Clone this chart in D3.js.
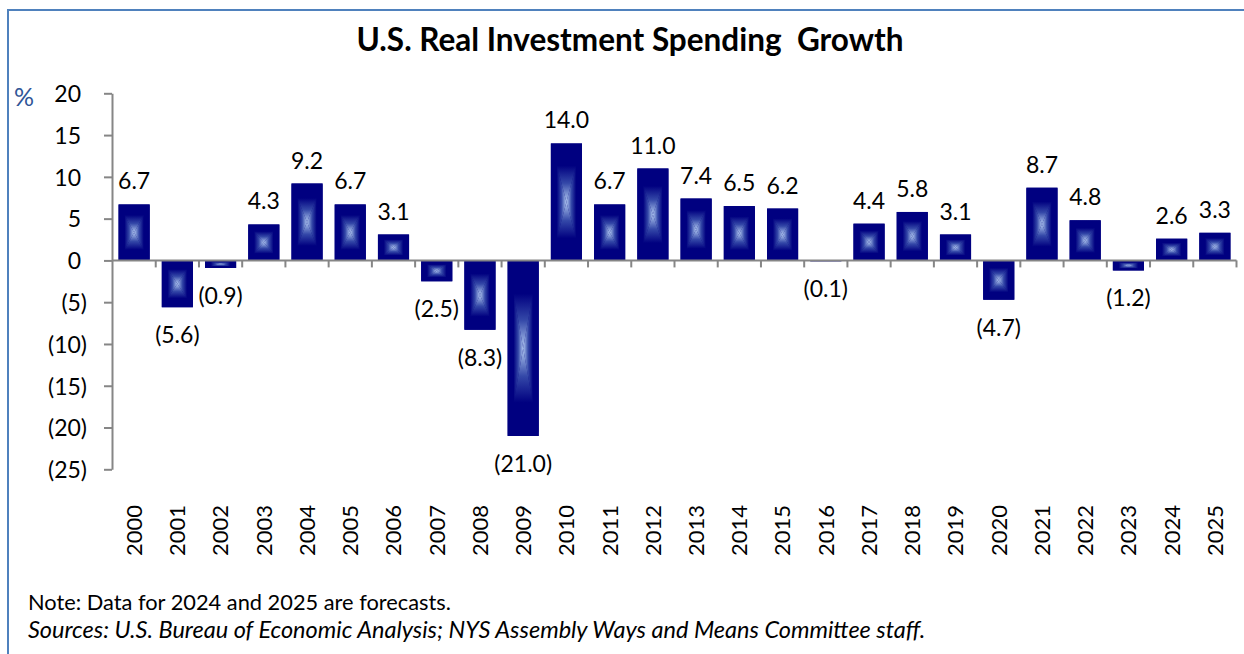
<!DOCTYPE html>
<html><head><meta charset="utf-8">
<script src="https://cdn.jsdelivr.net/npm/d3@7"></script>
<style>
html,body{margin:0;padding:0;background:#fff;overflow:hidden;}
svg{display:block;font-family:Lato,"Open Sans",sans-serif;}
</style></head>
<body>
<svg id="chart" width="1244" height="654"></svg>
<script>
const years = ["2000","2001","2002","2003","2004","2005","2006","2007","2008","2009","2010","2011","2012","2013","2014","2015","2016","2017","2018","2019","2020","2021","2022","2023","2024","2025"];
const growth = [6.7,-5.6,-0.9,4.3,9.2,6.7,3.1,-2.5,-8.3,-21.0,14.0,6.7,11.0,7.4,6.5,6.2,-0.1,4.4,5.8,3.1,-4.7,8.7,4.8,-1.2,2.6,3.3];
const yTicks = [20,15,10,5,0,-5,-10,-15,-20,-25];
const titleText = "U.S. Real Investment Spending\u00a0 Growth";
const noteText = "Note: Data for 2024 and 2025 are forecasts.";
const sourceText = "Sources: U.S. Bureau of Economic Analysis; NYS Assembly Ways and Means Committee staff.";

const svg = d3.select("#chart");
const fmt = v => v < 0 ? "(" + d3.format(".1f")(-v) + ")" : d3.format(".1f")(v);
const fmtTick = v => v < 0 ? "(" + (-v) + ")" : String(v);

// frame (top and left edges visible)
svg.append("path").attr("d","M8,700V10H1260")
  .attr("fill","none").attr("stroke","#4f81bd").attr("stroke-width",2);

const x = d3.scaleBand().domain(years).range([112.5,1236.5]).paddingInner(0.28).paddingOuter(0.14);
const y = d3.scaleLinear().domain([-25,20]).range([469.3,93.3]);

// gradients
const defs = svg.append("defs");
const stops = [[0,"#000080"],[0.38,"#000080"],[0.68,"#3448a8"],[1,"#b0c8f0"]];
const gdefs = {gl:[0,0,1,0],gr:[1,0,0,0],gt:[0,0,0,1],gb:[0,1,0,0]};
Object.entries(gdefs).forEach(([id,c])=>{
  const g = defs.append("linearGradient").attr("id",id)
    .attr("x1",c[0]).attr("y1",c[1]).attr("x2",c[2]).attr("y2",c[3]);
  stops.forEach(s=>g.append("stop").attr("offset",s[0]).attr("stop-color",s[1]));
});

// y axis
const axisColor = "#868686";
const yAxis = svg.append("g").attr("transform","translate(112,0)")
  .call(d3.axisLeft(y).tickValues(yTicks).tickSize(8).tickSizeOuter(0).tickFormat(fmtTick));
yAxis.select(".domain").attr("stroke",axisColor).attr("stroke-width",2);
yAxis.selectAll(".tick line").attr("stroke",axisColor).attr("stroke-width",2);
yAxis.selectAll(".tick text").attr("font-family","Lato").attr("font-size",23).attr("fill","#000")
  .attr("x",d => d < 0 ? -25 : -31).attr("dy","0.36em");

// bars
const bars = svg.append("g").selectAll("g.bar").data(years).join("g").attr("class","bar");
bars.each(function(yr,i){
  const v = growth[i];
  const x0 = x(yr), w = x.bandwidth();
  const yTop = y(Math.max(0,v)), yBot = y(Math.min(0,v));
  const h = yBot - yTop;
  const cx = x0 + w/2, cy = yTop + h/2;
  const g = d3.select(this);
  g.append("rect").attr("x",x0).attr("y",yTop).attr("width",w).attr("height",h).attr("fill","#000080");
  const tri = (pts,id) => g.append("path").attr("d","M"+pts.map(p=>p.join(",")).join("L")+"Z").attr("fill","url(#"+id+")");
  tri([[x0,yTop],[cx,cy],[x0,yBot]],"gl");
  tri([[x0+w,yTop],[cx,cy],[x0+w,yBot]],"gr");
  tri([[x0,yTop],[cx,cy],[x0+w,yTop]],"gt");
  tri([[x0,yBot],[cx,cy],[x0+w,yBot]],"gb");
});

// x axis
const xAxisG = svg.append("g");
xAxisG.append("line").attr("x1",112).attr("x2",1236.5).attr("y1",y(0)).attr("y2",y(0))
  .attr("stroke",axisColor).attr("stroke-width",2);
const step = x.step();
const bounds = years.map((yr,i)=> x.range()[0] + (i+1)*step);
xAxisG.selectAll("line.t").data(bounds).join("line").attr("class","t")
  .attr("x1",d=>d).attr("x2",d=>d).attr("y1",y(0)).attr("y2",y(0)+7)
  .attr("stroke",axisColor).attr("stroke-width",2);

// year labels
svg.append("g").selectAll("text").data(years).join("text")
  .attr("transform",d=>`translate(${x(d)+x.bandwidth()/2},505) rotate(-90)`)
  .attr("text-anchor","end").attr("dy","0.36em")
  .attr("font-size",22).attr("fill","#000").text(d=>d);

// data labels
svg.append("g").selectAll("text").data(years).join("text")
  .attr("x",d=>x(d)+x.bandwidth()/2)
  .attr("y",(d,i)=> growth[i] >= 0 ? y(growth[i]) - 15 : y(growth[i]) + 36)
  .attr("text-anchor","middle").attr("font-size",23).attr("fill","#000")
  .text((d,i)=>fmt(growth[i]));

// % unit
svg.append("text").attr("x",14).attr("y",106).attr("font-size",25).attr("fill","#2f5597").text("%");

// title
svg.append("text").attr("x",630).attr("y",51).attr("text-anchor","middle")
  .attr("font-size",31.5).attr("font-weight","bold").attr("fill","#000").text(titleText);

// notes
svg.append("text").attr("x",28).attr("y",610).attr("font-size",21.8).attr("fill","#000").text(noteText);
svg.append("text").attr("x",28).attr("y",638).attr("font-size",23.5).attr("font-style","italic").attr("fill","#000").text(sourceText);
</script>
</body></html>
